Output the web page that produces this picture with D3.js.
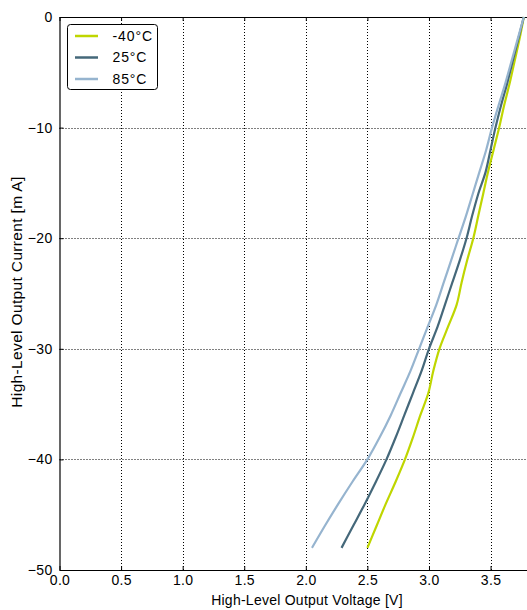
<!DOCTYPE html>
<html>
<head>
<meta charset="utf-8">
<script src="https://cdnjs.cloudflare.com/ajax/libs/d3/7.8.5/d3.min.js"></script>
<style>
  body { margin: 0; background: #fff; }
  svg { display: block; font-family: "Liberation Sans", Arial, sans-serif; }
  .grid line { stroke: #000; stroke-dasharray: 1,2; stroke-width: 1; }
</style>
</head>
<body>
<div id="chart"></div>
<script>
// current steps (mA)
var current = [0, -2, -4, -6, -8, -10, -12, -14, -16, -18, -20, -22, -24, -26, -28, -30, -32, -34, -36, -38, -40, -42, -44, -46, -48];

// voltage (V) for each current step
var vMinus40 = [3.77, 3.735, 3.695, 3.655, 3.61, 3.57, 3.525, 3.48, 3.44, 3.40, 3.36, 3.31, 3.265, 3.225, 3.155, 3.085, 3.035, 2.995, 2.93, 2.87, 2.805, 2.73, 2.65, 2.575, 2.50];
var v25 = [3.77, 3.725, 3.68, 3.635, 3.585, 3.54, 3.50, 3.46, 3.40, 3.35, 3.305, 3.25, 3.19, 3.13, 3.07, 3.00, 2.94, 2.87, 2.80, 2.73, 2.655, 2.57, 2.48, 2.385, 2.29];
var v85 = [3.77, 3.72, 3.67, 3.62, 3.565, 3.512, 3.465, 3.41, 3.355, 3.30, 3.24, 3.18, 3.12, 3.06, 2.99, 2.92, 2.85, 2.77, 2.69, 2.60, 2.50, 2.38, 2.265, 2.155, 2.05];

var seriesNames = ["-40°C", "25°C", "85°C"];
var seriesColors = ["#bfd600", "#45687a", "#96b4cf"];
var xTicks = [0, 0.5, 1.0, 1.5, 2.0, 2.5, 3.0, 3.5];
var yTicks = [0, -10, -20, -30, -40, -50];

var width = 527, height = 610;
var plotL = 59.5, plotT = 17, plotR = 527.5, plotB = 570;

var svg = d3.select("#chart").append("svg")
    .attr("width", width)
    .attr("height", height);

var x = d3.scaleLinear().domain([0, 3.8]).range([plotL, plotR]);
var y = d3.scaleLinear().domain([-50, 0]).range([plotB, plotT]);

// dotted grid
var grid = svg.append("g").attr("class", "grid");
grid.selectAll(".vg").data(xTicks.slice(1))
    .enter().append("line")
    .attr("x1", function(d) { return Math.round(x(d)) + 0.5; })
    .attr("x2", function(d) { return Math.round(x(d)) + 0.5; })
    .attr("y1", plotT).attr("y2", plotB);
grid.selectAll(".hg").data(yTicks.slice(1, -1))
    .enter().append("line")
    .attr("y1", function(d) { return Math.round(y(d)) + 0.5; })
    .attr("y2", function(d) { return Math.round(y(d)) + 0.5; })
    .attr("x1", plotL).attr("x2", plotR);

// axes
var fmtX = d3.format(".1f");
var xAxis = svg.append("g")
    .attr("transform", "translate(0," + plotB + ")")
    .call(d3.axisBottom(x).tickValues(xTicks).tickFormat(fmtX).tickSizeInner(-4).tickSizeOuter(0));
var xTop = svg.append("g")
    .attr("transform", "translate(0," + plotT + ")")
    .call(d3.axisTop(x).tickValues(xTicks).tickFormat("").tickSizeInner(-4).tickSizeOuter(0));
var yAxis = svg.append("g")
    .attr("transform", "translate(" + plotL + ",0)")
    .call(d3.axisLeft(y).tickValues(yTicks)
        .tickFormat(function(d) { return d === 0 ? "0" : "\u2212" + Math.abs(d); })
        .tickSizeInner(-4).tickSizeOuter(0));

[xAxis, xTop, yAxis].forEach(function(a) {
  a.select(".domain").attr("stroke", "#000").attr("stroke-width", 1.2);
  a.selectAll(".tick line").attr("stroke", "#000");
  a.selectAll("text").attr("fill", "#000").style("font-size", "14px").style("letter-spacing", "0.3px");
});
xAxis.selectAll("text").attr("dy", "0.71em").attr("y", 5);
yAxis.selectAll("text").attr("x", -7);

// curves
var allV = [vMinus40, v25, v85];
var line = d3.line()
    .x(function(d) { return x(d.v); })
    .y(function(d) { return y(d.i); })
    .curve(d3.curveMonotoneY);

allV.forEach(function(vals, k) {
  var pts = vals.map(function(v, j) { return {v: v, i: current[j]}; });
  svg.append("path")
      .datum(pts)
      .attr("fill", "none")
      .attr("stroke", seriesColors[k])
      .attr("stroke-width", 2.2)
      .attr("d", line);
});

// legend
var lg = svg.append("g").attr("transform", "translate(67,24)");
lg.append("rect")
    .attr("x", 0.5).attr("y", 0.5)
    .attr("width", 90).attr("height", 65)
    .attr("rx", 3)
    .attr("fill", "#fff").attr("stroke", "#000").attr("stroke-width", 1);
seriesNames.forEach(function(n, k) {
  var yy = 12 + k * 21.5;
  lg.append("line")
      .attr("x1", 8).attr("x2", 31)
      .attr("y1", yy).attr("y2", yy)
      .attr("stroke", seriesColors[k]).attr("stroke-width", 2.5);
  lg.append("text")
      .attr("x", 45.5)
      .attr("y", yy)
      .attr("dy", "0.35em")
      .style("font-size", "14px")
      .style("letter-spacing", "0.9px")
      .text(n);
});

// axis titles
svg.append("text")
    .attr("x", 307)
    .attr("y", 605)
    .attr("text-anchor", "middle")
    .style("font-size", "14px")
    .style("letter-spacing", "0.25px")
    .text("High-Level Output Voltage [V]");
svg.append("text")
    .attr("transform", "translate(22,292) rotate(-90)")
    .attr("text-anchor", "middle")
    .style("font-size", "15.5px")
    .style("letter-spacing", "0.35px")
    .text("High-Level Output Current [m A]");
</script>
</body>
</html>
